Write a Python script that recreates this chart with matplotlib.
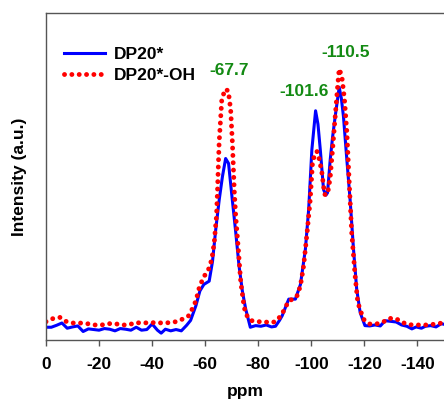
import matplotlib.pyplot as plt

plt.rcParams['font.family'] = ['Liberation Sans', 'DejaVu Sans']
plt.rcParams['font.weight'] = 'bold'
plt.rcParams['axes.unicode_minus'] = False

# 29Si NMR spectra (ppm, intensity in a.u.)
ppm_dp20 = [0, -2, -4, -6, -8, -10, -12, -14, -16, -18, -20, -22, -24, -26, -28, -30,
            -32, -34, -36, -38, -40, -42, -43.4, -45, -47, -49, -51, -53, -54.5, -56.5,
            -58, -59.5, -61.5, -62.75, -64, -65.3, -66.5, -67.7, -68.8, -70.2, -71.5,
            -72.75, -74, -75.25, -77, -79, -81, -83, -85, -86.5, -88, -89, -90.5, -91.5,
            -94, -95.9, -97.75, -99, -100.2, -101.6, -102.5, -103.4, -104.6, -105.5,
            -106.1, -107.1, -108, -109, -110.5, -111.3, -112.1, -113.4, -114.6, -115.9,
            -117.1, -118.4, -120.2, -122, -124, -126, -127.8, -130, -132, -134, -136,
            -137.9, -139.5, -141.5, -143, -145, -147, -149, -150]
int_dp20 = [3.9, 3.9, 4.5, 5.2, 3.6, 4.0, 4.3, 2.6, 3.4, 3.2, 3.0, 3.5, 3.3, 2.8, 3.5, 3.3,
            3.0, 3.9, 3.0, 3.2, 4.9, 3.0, 2.1, 3.3, 2.8, 3.2, 2.8, 4.5, 6.0, 10.5,
            15, 17, 18, 24, 34, 43, 50, 55.5, 54, 43, 33,
            22.7, 15, 9.5, 3.9, 4.4, 4.2, 4.6, 4.0, 4.2, 6, 7.4, 10.5, 12.5,
            12.5, 17, 27.7, 40, 58.2, 70.1, 66, 58, 46, 44.3,
            45, 55, 62, 68.4, 77.3, 74, 68.4, 55, 43, 27.7,
            15.5, 8.4, 4.4, 4.3, 4.6, 4.3, 5.9, 5.7, 5.5, 4.6, 4.2,
            3.4, 4.0, 3.6, 4.2, 4.4, 4.0, 5.0, 4.8]

ppm_oh = [0, -2.75, -5.25, -7.75, -10, -12.75, -15.5, -18.4, -21, -23.4, -26, -28.5, -31,
          -33.75, -36.5, -39, -41.5, -44, -46.5, -49, -51.5, -53.75, -55.25, -56.5,
          -57.75, -59.25, -61.25, -62.5, -63.4, -64.25, -64.6, -65.25, -66.25, -67.5,
          -68.7, -69.6, -70.25, -71, -71.5, -72.5, -73.4, -74.6, -75.25, -77, -79.6,
          -82, -84.6, -86.5, -88.75, -90.25, -91.5, -93.4, -94.6, -95.9, -97.1, -98.4,
          -99.6, -100.5, -102.1, -103.1, -104, -105, -106.1, -107.1, -108, -109, -110,
          -110.5, -111.5, -112.5, -113.4, -114.3, -115.2, -116.5, -117.5, -119.6, -122,
          -124.5, -127.1, -129.2, -131.8, -134, -136.5, -139, -141.5, -144, -147,
          -149.25, -150]
int_oh = [5.6, 6.6, 6.9, 5.6, 5.2, 5.2, 5.0, 4.6, 4.6, 5.0, 5.0, 4.6, 4.6,
          5.3, 5.2, 5.3, 5.3, 5.2, 5.3, 5.6, 6.4, 7.4, 9.7, 12,
          16, 19, 21.6, 24.7, 29.8, 37.9, 45, 60.3, 73.5, 76.7,
          76.2, 70.4, 60.3, 45, 37.9, 27.7, 17.7, 10.5, 8, 6, 5.6,
          5.6, 5.3, 5.6, 7.6, 10, 12, 12.6, 13.5, 16.6, 22.7, 32.8,
          43, 55, 57.7, 55, 51, 44.5, 44.5, 49.6, 58.2, 68.4, 78.5,
          82.9, 80.6, 73.5, 63.4, 48, 32.9, 19.6, 11.5, 6.4, 4.9,
          4.9, 5.5, 6.6, 6.6, 5.5, 4.7, 4.6, 4.6, 4.6, 4.9,
          5.2, 5.3]

peak_labels = ['-67.7', '-101.6', '-110.5']
peak_ppm = [-67.7, -101.6, -110.5]
peak_top = [76.7, 70.1, 82.9]

fig = plt.figure(figsize=(4.44, 3.99), dpi=100)
ax = fig.add_axes([46 / 444, 59 / 399, 398 / 444, 327 / 399])

ax.plot(ppm_dp20, int_dp20, color='#0000ff', lw=2.2, label='DP20*')
ax.plot(ppm_oh, int_oh, color='#ff0000', lw=3.5, linestyle=(0, (0.01, 1.5)),
        dash_capstyle='round', label='DP20*-OH')

# peak labels, nudged above each maximum
offsets = [(-1.3, 5.6), (4.5, 6.0), (-2.4, 5.0)]
for lab, x, y, (dx, dy) in zip(peak_labels, peak_ppm, peak_top, offsets):
    ax.text(x + dx, y + dy, lab, color='#138a13', fontsize=12.5, fontweight='bold',
            ha='center', va='center')

ax.set_xlim(0, -150)
ax.set_ylim(0, 100)
ax.set_xticks(range(0, -141, -20))
ax.set_yticks([])
ax.tick_params(axis='x', direction='out', length=4, width=1, color='#555555',
               labelsize=12.5, pad=8)
for s in ['left', 'top', 'bottom']:
    ax.spines[s].set_color('#555555')
    ax.spines[s].set_linewidth(1)
ax.spines['right'].set_visible(False)

ax.set_xlabel('ppm', fontsize=12.5, fontweight='bold', labelpad=9)
ax.set_ylabel('Intensity (a.u.)', fontsize=12.5, fontweight='bold', labelpad=14)

ax.legend(loc='upper left', bbox_to_anchor=(0.005, 0.945), frameon=False,
          fontsize=12.5, handlelength=2.4, handletextpad=0.5, labelspacing=0.35)

fig.savefig('out.png', dpi=100)
